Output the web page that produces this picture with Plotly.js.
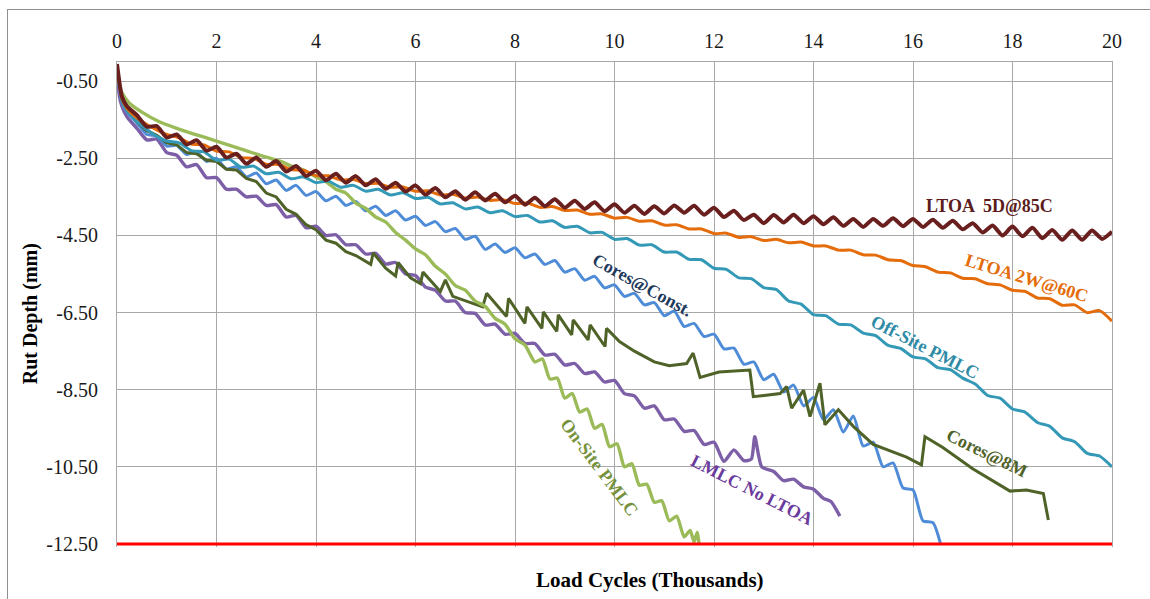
<!DOCTYPE html>
<html>
<head>
<meta charset="utf-8">
<script src="https://cdn.plot.ly/plotly-3.0.1.min.js"></script>
<style>
  html, body { margin: 0; padding: 0; background: #ffffff; overflow: hidden; }
  #chart { width: 1150px; height: 599px; }
  #frame { position: absolute; left: 7px; top: 9px; width: 1300px; height: 800px;
           border-left: 1px solid #8f8f8f; border-top: 1px solid #8f8f8f; pointer-events: none; }
</style>
</head>
<body>
<div id="chart"></div>
<div id="frame"></div>
<script>
// Rut depth (mm) against load cycles (thousands), one list of [cycles, depth] per mix.
const ltoa5d = [[0,-0.05],[0.1,-0.9],[0.2,-1.15],[0.4,-1.38],[0.6,-1.68],[0.8,-1.66],[1.0,-1.96],[1.2,-1.88],[1.4,-2.14],[1.6,-2.03],[1.8,-2.3],[2.0,-2.2],[2.2,-2.48],[2.4,-2.38],[2.6,-2.64],[2.8,-2.48],[3.0,-2.72],[3.2,-2.57],[3.4,-2.84],[3.6,-2.7],[3.8,-2.96],[4.0,-2.82],[4.2,-3.07],[4.4,-2.9],[4.6,-3.13],[4.8,-2.96],[5.0,-3.2],[5.2,-3.04],[5.4,-3.29],[5.6,-3.13],[5.8,-3.36],[6.0,-3.2],[6.2,-3.44],[6.4,-3.27],[6.6,-3.51],[6.8,-3.35],[7.0,-3.57],[7.2,-3.38],[7.4,-3.59],[7.6,-3.42],[7.8,-3.64],[8.0,-3.47],[8.2,-3.7],[8.4,-3.52],[8.6,-3.74],[8.8,-3.56],[9.0,-3.78],[9.2,-3.6],[9.4,-3.81],[9.6,-3.64],[9.8,-3.87],[10.0,-3.69],[10.2,-3.91],[10.4,-3.73],[10.6,-3.94],[10.8,-3.74],[11.0,-3.93],[11.2,-3.72],[11.4,-3.91],[11.6,-3.73],[11.8,-3.96],[12.0,-3.78],[12.2,-4.02],[12.4,-3.86],[12.6,-4.1],[12.8,-3.96],[13.0,-4.18],[13.2,-3.97],[13.4,-4.16],[13.6,-3.96],[13.8,-4.18],[14.0,-4.0],[14.2,-4.21],[14.4,-4.03],[14.6,-4.25],[14.8,-4.07],[15.0,-4.28],[15.2,-4.07],[15.4,-4.25],[15.6,-4.05],[15.8,-4.26],[16.0,-4.07],[16.2,-4.28],[16.4,-4.09],[16.6,-4.3],[16.8,-4.12],[17.0,-4.34],[17.2,-4.18],[17.4,-4.42],[17.6,-4.24],[17.8,-4.5],[18.0,-4.27],[18.2,-4.52],[18.4,-4.3],[18.6,-4.57],[18.8,-4.36],[19.0,-4.61],[19.2,-4.37],[19.4,-4.61],[19.6,-4.37],[19.8,-4.59],[20.0,-4.4]];

const ltoa2w = [[0,-0.1],[0.1,-0.95],[0.2,-1.2],[0.4,-1.45],[0.6,-1.62],[0.8,-1.76],[1.0,-1.88],[1.25,-1.97],[1.5,-2.13],[1.75,-2.15],[2.0,-2.31],[2.25,-2.33],[2.5,-2.48],[2.75,-2.5],[3.0,-2.65],[3.25,-2.66],[3.5,-2.79],[3.75,-2.81],[4.0,-2.95],[4.25,-2.95],[4.5,-3.06],[4.75,-3.05],[5.0,-3.15],[5.25,-3.15],[5.5,-3.25],[5.75,-3.24],[6.0,-3.35],[6.25,-3.34],[6.5,-3.45],[6.75,-3.43],[7.0,-3.53],[7.25,-3.5],[7.5,-3.59],[7.75,-3.57],[8.0,-3.67],[8.25,-3.66],[8.5,-3.77],[8.75,-3.75],[9.0,-3.85],[9.25,-3.84],[9.5,-3.95],[9.75,-3.94],[10.0,-4.05],[10.25,-4.03],[10.5,-4.13],[10.75,-4.12],[11.0,-4.23],[11.25,-4.22],[11.5,-4.33],[11.75,-4.33],[12.0,-4.45],[12.25,-4.44],[12.5,-4.55],[12.75,-4.53],[13.0,-4.63],[13.25,-4.6],[13.5,-4.69],[13.75,-4.67],[14.0,-4.77],[14.25,-4.77],[14.5,-4.88],[14.75,-4.88],[15.0,-5.0],[15.25,-5.01],[15.5,-5.13],[15.75,-5.15],[16.0,-5.28],[16.25,-5.31],[16.5,-5.45],[16.75,-5.47],[17.0,-5.61],[17.25,-5.62],[17.5,-5.75],[17.75,-5.78],[18.0,-5.92],[18.25,-5.95],[18.5,-6.12],[18.75,-6.14],[19.0,-6.31],[19.25,-6.3],[19.5,-6.5],[19.75,-6.45],[20.0,-6.72]];

const offSitePmlc = [[0,-0.15],[0.1,-1.0],[0.2,-1.25],[0.4,-1.55],[0.6,-1.75],[0.8,-1.93],[1.0,-2.05],[1.25,-2.1],[1.5,-2.3],[1.75,-2.33],[2.0,-2.55],[2.25,-2.52],[2.5,-2.73],[2.75,-2.7],[3.0,-2.9],[3.25,-2.86],[3.5,-3.03],[3.75,-2.98],[4.0,-3.13],[4.25,-3.09],[4.5,-3.25],[4.75,-3.2],[5.0,-3.35],[5.25,-3.3],[5.5,-3.45],[5.75,-3.39],[6.0,-3.54],[6.25,-3.51],[6.5,-3.68],[6.75,-3.65],[7.0,-3.81],[7.25,-3.76],[7.5,-3.91],[7.75,-3.86],[8.0,-4.01],[8.25,-3.98],[8.5,-4.15],[8.75,-4.12],[9.0,-4.29],[9.25,-4.26],[9.5,-4.43],[9.75,-4.42],[10.0,-4.6],[10.25,-4.58],[10.5,-4.75],[10.75,-4.74],[11.0,-4.93],[11.25,-4.93],[11.5,-5.12],[11.75,-5.13],[12.0,-5.35],[12.25,-5.38],[12.5,-5.6],[12.75,-5.62],[13.0,-5.85],[13.25,-5.9],[13.5,-6.2],[13.75,-6.28],[14.0,-6.55],[14.25,-6.58],[14.5,-6.8],[14.75,-6.82],[15.0,-7.03],[15.25,-7.1],[15.5,-7.35],[15.75,-7.43],[16.0,-7.65],[16.25,-7.7],[16.5,-7.93],[16.75,-7.98],[17.0,-8.2],[17.25,-8.35],[17.5,-8.65],[17.75,-8.72],[18.0,-9.0],[18.25,-9.08],[18.5,-9.35],[18.75,-9.45],[19.0,-9.75],[19.25,-9.85],[19.5,-10.15],[19.75,-10.22],[20.0,-10.5]];

const coresConst = [[0,-0.2],[0.1,-1.05],[0.2,-1.3],[0.4,-1.58],[0.6,-1.88],[0.8,-1.92],[1.0,-2.18],[1.2,-2.16],[1.4,-2.4],[1.6,-2.33],[1.8,-2.58],[2.0,-2.5],[2.2,-2.78],[2.4,-2.72],[2.6,-2.98],[2.8,-2.88],[3.0,-3.16],[3.2,-3.06],[3.4,-3.33],[3.6,-3.2],[3.8,-3.46],[4.0,-3.36],[4.2,-3.6],[4.4,-3.48],[4.6,-3.72],[4.8,-3.62],[5.0,-3.86],[5.2,-3.74],[5.4,-3.98],[5.6,-3.86],[5.8,-4.1],[6.0,-4.0],[6.2,-4.24],[6.4,-4.14],[6.6,-4.4],[6.8,-4.32],[7.0,-4.6],[7.2,-4.52],[7.4,-4.86],[7.6,-4.72],[7.8,-4.94],[8.0,-4.82],[8.2,-5.08],[8.4,-4.98],[8.6,-5.25],[8.8,-5.15],[9.0,-5.45],[9.2,-5.36],[9.4,-5.66],[9.6,-5.56],[9.8,-5.86],[10.0,-5.78],[10.2,-6.08],[10.4,-6.0],[10.6,-6.3],[10.8,-6.24],[11.0,-6.58],[11.2,-6.46],[11.4,-6.86],[11.6,-6.78],[11.8,-7.12],[12.0,-7.06],[12.2,-7.44],[12.4,-7.42],[12.6,-7.84],[12.8,-7.78],[13.0,-8.24],[13.2,-8.1],[13.4,-8.56],[13.6,-8.38],[13.8,-8.92],[14.0,-8.7],[14.2,-9.28],[14.4,-9.02],[14.6,-9.6],[14.8,-9.18],[15.0,-9.96],[15.2,-9.86],[15.4,-10.5],[15.6,-10.4],[15.8,-11.05],[16.0,-11.1],[16.2,-11.9],[16.4,-11.95],[16.55,-12.48]];

const cores8m = [[0,-0.15],[0.1,-1.0],[0.2,-1.25],[0.4,-1.55],[0.6,-1.78],[0.8,-1.9],[1.0,-2.1],[1.2,-2.15],[1.4,-2.35],[1.6,-2.38],[1.8,-2.55],[2.0,-2.58],[2.2,-2.78],[2.4,-2.8],[2.6,-3.02],[2.8,-3.1],[3.0,-3.4],[3.2,-3.5],[3.4,-3.82],[3.6,-3.95],[3.8,-4.22],[4.0,-4.35],[4.2,-4.62],[4.4,-4.7],[4.6,-4.92],[4.8,-5.02],[5.1,-5.25],[5.15,-4.95],[5.4,-5.35],[5.6,-5.55],[5.65,-5.2],[5.9,-5.6],[6.1,-5.75],[6.15,-5.45],[6.5,-5.95],[6.6,-5.65],[6.75,-6.08],[7.0,-6.2],[7.35,-6.35],[7.43,-6.0],[7.83,-6.6],[7.87,-6.13],[8.2,-6.78],[8.24,-6.35],[8.54,-6.91],[8.57,-6.48],[8.84,-6.99],[8.87,-6.56],[9.14,-7.08],[9.17,-6.69],[9.47,-7.21],[9.51,-6.82],[9.81,-7.38],[9.84,-6.91],[10.1,-7.25],[10.4,-7.5],[10.8,-7.78],[11.1,-7.88],[11.45,-7.82],[11.58,-7.55],[11.72,-8.18],[12.1,-8.04],[12.72,-7.99],[12.79,-8.68],[13.33,-8.6],[13.46,-8.42],[13.56,-8.98],[13.8,-8.51],[13.93,-9.2],[14.13,-8.33],[14.23,-9.41],[14.5,-9.02],[14.8,-9.45],[15.2,-9.92],[15.87,-10.25],[16.17,-10.45],[16.24,-9.72],[16.6,-10.0],[17.2,-10.55],[17.95,-11.13],[18.28,-11.1],[18.62,-11.19],[18.72,-11.88]];

const lmlcNoLtoa = [[0,-0.2],[0.05,-0.9],[0.1,-1.15],[0.2,-1.42],[0.4,-1.72],[0.6,-2.02],[0.8,-2.0],[1.0,-2.35],[1.2,-2.42],[1.4,-2.72],[1.6,-2.66],[1.8,-3.0],[2.0,-3.0],[2.2,-3.3],[2.4,-3.3],[2.6,-3.5],[2.8,-3.48],[3.0,-3.72],[3.2,-3.7],[3.4,-4.02],[3.6,-3.98],[3.8,-4.3],[4.0,-4.26],[4.2,-4.5],[4.4,-4.48],[4.6,-4.74],[4.8,-4.74],[5.0,-4.98],[5.2,-4.96],[5.4,-5.24],[5.6,-5.2],[5.8,-5.5],[6.0,-5.54],[6.2,-5.84],[6.4,-5.92],[6.6,-6.2],[6.8,-6.2],[7.0,-6.5],[7.2,-6.52],[7.4,-6.82],[7.6,-6.8],[7.8,-7.06],[8.0,-7.04],[8.2,-7.3],[8.4,-7.3],[8.6,-7.6],[8.8,-7.58],[9.0,-7.86],[9.2,-7.82],[9.4,-8.08],[9.6,-8.04],[9.8,-8.3],[10.0,-8.26],[10.2,-8.6],[10.4,-8.66],[10.6,-8.98],[10.8,-8.92],[11.0,-9.28],[11.2,-9.26],[11.4,-9.58],[11.6,-9.56],[11.8,-9.92],[12.0,-9.86],[12.2,-10.36],[12.4,-10.06],[12.6,-10.34],[12.75,-10.3],[12.82,-9.72],[12.96,-10.5],[13.2,-10.62],[13.4,-10.86],[13.6,-10.82],[13.8,-11.02],[14.0,-11.08],[14.2,-11.32],[14.35,-11.4],[14.53,-11.78]];

const onSitePmlc = [[0,-0.1],[0.05,-0.6],[0.1,-0.8],[0.25,-1.07],[0.5,-1.3],[0.85,-1.55],[1.2,-1.72],[1.5,-1.85],[2.0,-2.05],[2.5,-2.26],[3.0,-2.47],[3.3,-2.58],[3.5,-2.7],[3.75,-2.8],[4.0,-2.98],[4.2,-3.1],[4.4,-3.3],[4.6,-3.4],[4.8,-3.66],[5.0,-3.8],[5.2,-4.02],[5.4,-4.15],[5.6,-4.42],[5.8,-4.62],[6.0,-4.85],[6.2,-5.0],[6.4,-5.3],[6.6,-5.5],[6.8,-5.8],[7.0,-5.92],[7.2,-6.2],[7.4,-6.34],[7.6,-6.65],[7.8,-6.8],[8.0,-7.18],[8.2,-7.34],[8.4,-7.78],[8.55,-7.7],[8.7,-8.22],[8.85,-8.2],[9.0,-8.72],[9.15,-8.6],[9.3,-9.08],[9.45,-9.0],[9.6,-9.5],[9.75,-9.4],[9.9,-9.98],[10.05,-9.9],[10.2,-10.5],[10.35,-10.42],[10.5,-10.98],[10.65,-10.95],[10.8,-11.42],[10.95,-11.38],[11.1,-11.9],[11.25,-11.78],[11.4,-12.32],[11.52,-12.15],[11.6,-12.45],[11.66,-12.2],[11.7,-12.5]];

// Failure criterion line
const failureDepth = -12.5;
const cycleRange = [0, 20];

// Axis ticks
const yTickVals = [-0.5, -2.5, -4.5, -6.5, -8.5, -10.5, -12.5];
const yTickText = ['-0.50', '-2.50', '-4.50', '-6.50', '-8.50', '-10.50', '-12.50'];

// Series names as written beside each curve
const seriesNames = ['LTOA  5D@85C', 'LTOA 2W@60C', 'Off-Site PMLC', 'Cores@Const.', 'Cores@8M', 'LMLC No LTOA', 'On-Site PMLC'];

const serif = 'Liberation Serif, Times New Roman, serif';

function line(pairs, color, width, shape) {
  return {
    type: 'scatter', mode: 'lines',
    x: pairs.map(p => p[0]), y: pairs.map(p => p[1]),
    line: { color: color, width: width, shape: shape || 'spline', smoothing: 0.6 },
    hoverinfo: 'skip', showlegend: false
  };
}

const traces = [
  line(lmlcNoLtoa, '#7d5fa8', 3.4),
  line(coresConst, '#4f8cd8', 3),
  line(cores8m, '#4f6228', 3, 'linear'),
  line(onSitePmlc, '#9bbb59', 3.4),
  line(offSitePmlc, '#3399b6', 3),
  line(ltoa2w, '#e46c0a', 3),
  line(ltoa5d, '#6a1f1f', 4),
  {
    type: 'scatter', mode: 'lines', x: cycleRange, y: [failureDepth, failureDepth],
    line: { color: '#ff0000', width: 3 }, hoverinfo: 'skip', showlegend: false
  }
];

function label(text, x, y, angle, color) {
  return {
    text: text, x: x, y: y, xref: 'x', yref: 'y', showarrow: false, textangle: angle,
    xanchor: 'center', yanchor: 'middle',
    font: { family: serif, size: 18, color: color, weight: 'bold' }
  };
}

const layout = {
  width: 1150, height: 599,
  margin: { l: 117, r: 38, t: 62, b: 52 },
  paper_bgcolor: '#ffffff', plot_bgcolor: '#ffffff',
  font: { family: serif, color: '#1a1a1a' },
  xaxis: {
    range: cycleRange, side: 'top', tick0: 0, dtick: 2,
    showgrid: true, gridcolor: '#a8a8a8', gridwidth: 1,
    showline: true, linecolor: '#a8a8a8', linewidth: 1,
    zeroline: false, ticks: '', ticklabelstandoff: 5,
    tickfont: { family: serif, size: 20, color: '#1a1a1a' }
  },
  yaxis: {
    range: [-12.58, 0], tickmode: 'array', tickvals: yTickVals, ticktext: yTickText,
    showgrid: true, gridcolor: '#a8a8a8', gridwidth: 1,
    showline: true, mirror: true, linecolor: '#a8a8a8', linewidth: 1,
    zeroline: false, ticks: '', ticklabelstandoff: 14,
    tickfont: { family: serif, size: 20, color: '#1a1a1a' }
  },
  annotations: [
    label(seriesNames[0], 17.53, -3.73, 0, '#5c1c1c'),
    label(seriesNames[1], 18.28, -5.61, 17, '#e46c0a'),
    label(seriesNames[2], 16.24, -7.38, 27, '#2f8aa6'),
    label(seriesNames[3], 10.56, -5.78, 29, '#1f3a5c'),
    label(seriesNames[4], 17.48, -10.15, 26, '#4f6228'),
    label(seriesNames[5], 12.77, -11.1, 27, '#6a3a9c'),
    label(seriesNames[6], 9.69, -10.51, 53, '#76923c'),
    {
      text: 'Rut Depth (mm)', xref: 'paper', yref: 'paper', x: -0.0874, y: 0.48,
      xanchor: 'center', yanchor: 'middle',
      showarrow: false, textangle: -90,
      font: { family: serif, size: 20, color: '#000000', weight: 'bold' }
    },
    {
      text: 'Load Cycles (Thousands)', xref: 'paper', yref: 'paper', x: 0.5357, y: -0.068,
      xanchor: 'center', yanchor: 'middle',
      showarrow: false,
      font: { family: serif, size: 21, color: '#000000', weight: 'bold' }
    }
  ]
};

Plotly.newPlot('chart', traces, layout, { staticPlot: true, displayModeBar: false });
</script>
</body>
</html>
